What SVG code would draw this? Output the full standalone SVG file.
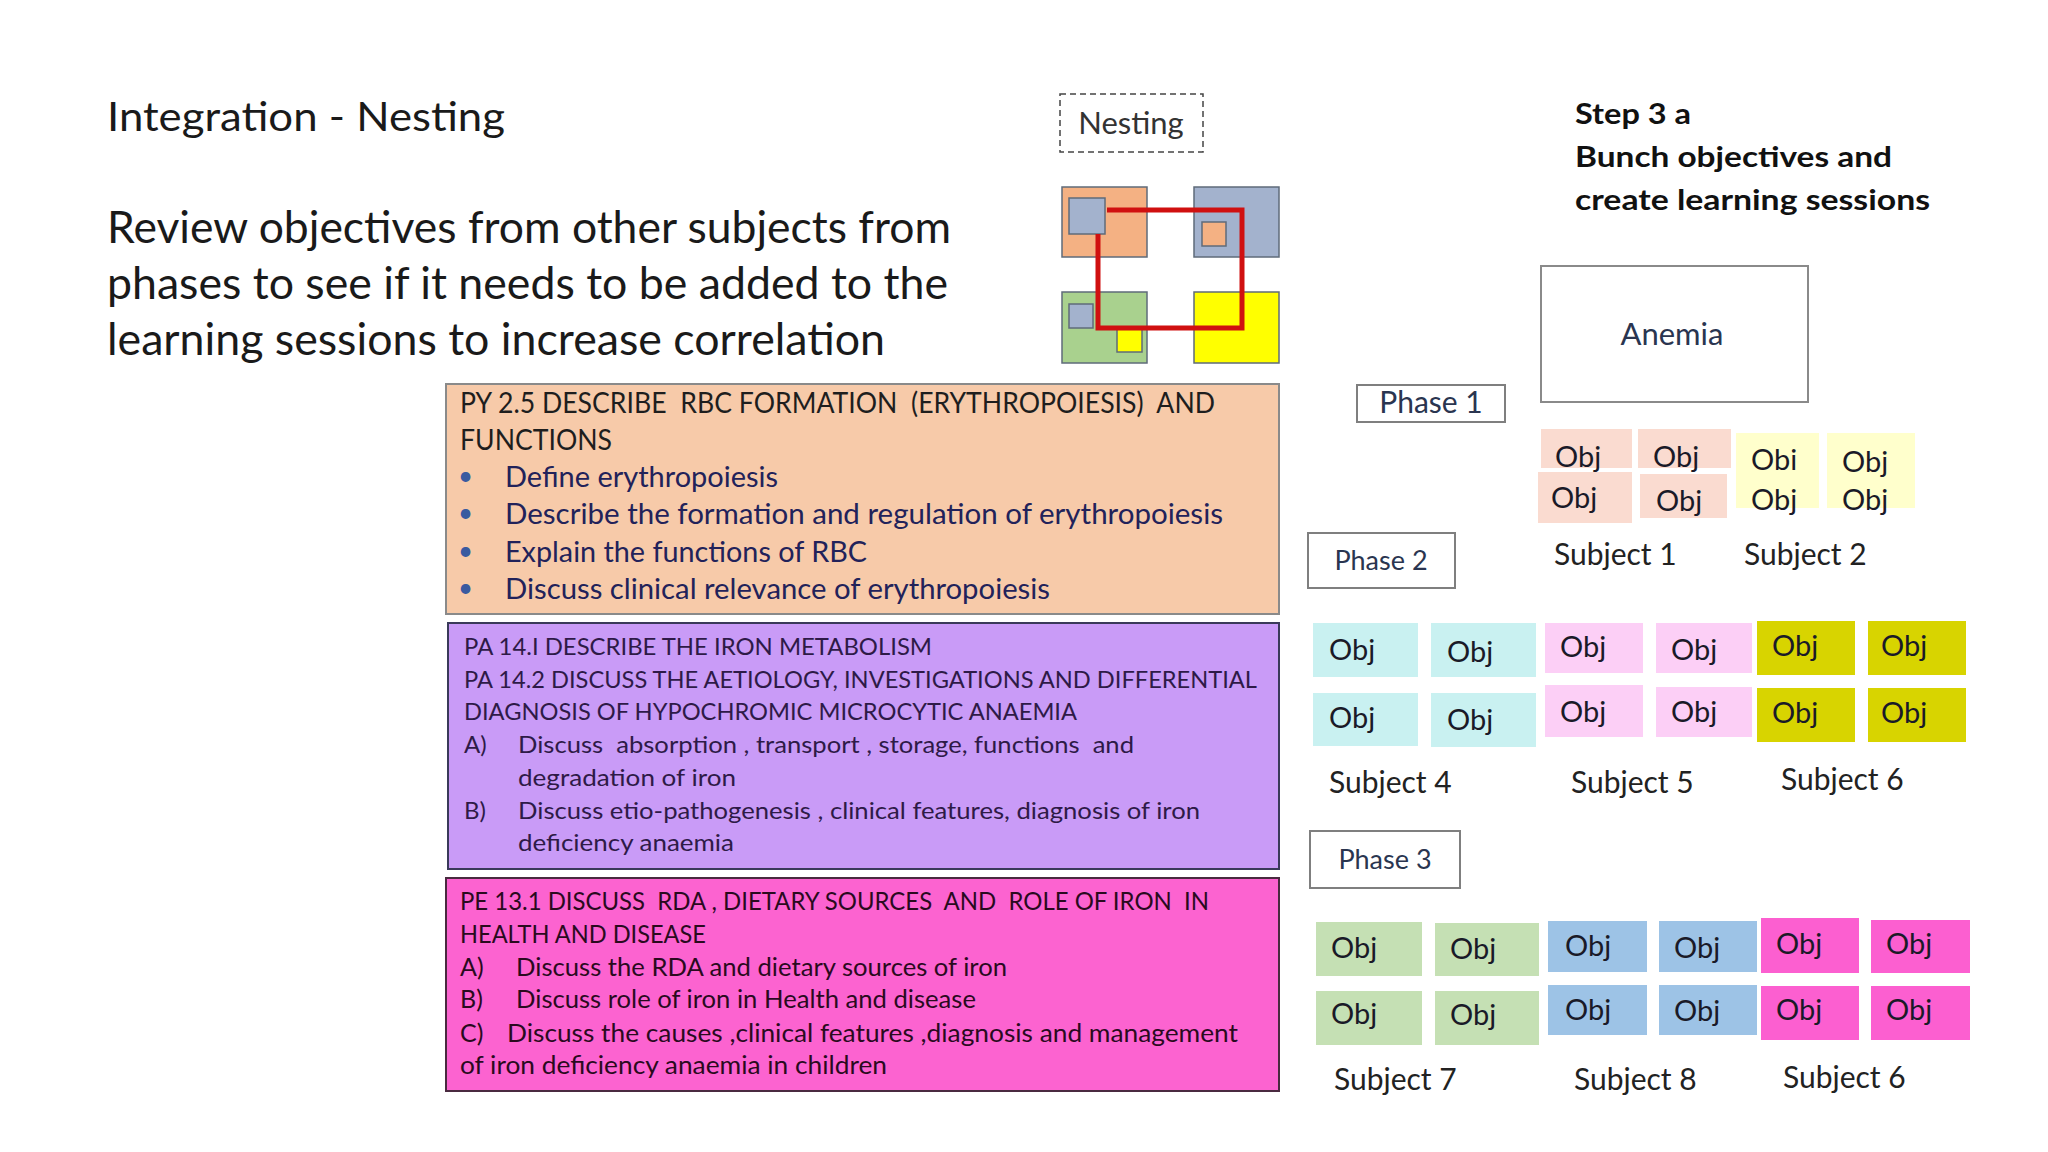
<svg xmlns="http://www.w3.org/2000/svg" width="2048" height="1152" viewBox="0 0 2048 1152">
<style>
text{font-family:Lato,"Liberation Sans",sans-serif}
.t{fill:#1a1a1a}
.bold{font-weight:bold;fill:#111;font-size:29px}
.py{font-size:28px;fill:#1e1e1e}
.pyb{font-size:28px;fill:#22225a}
.dot{fill:#3a5aa0;font-size:26px}
.pa{font-size:24px;fill:#2e1a47}
.pe{font-size:25px;fill:#2a0a1e}
.obj{font-size:29px;fill:#1a1a28}
.lbl{font-size:30px;fill:#222}
.ph{fill:#fff;stroke:#7f7f7f;stroke-width:2}
.pht{fill:#2a3550;text-anchor:middle}
.s1{fill:#fadbd0}.s2{fill:#ffffcc}.s4{fill:#c9f1f1}.s5{fill:#fccff6}.s6{fill:#d8d400}.s7{fill:#c5e0b4}.s8{fill:#9dc3e6}.s6b{fill:#fc5fd0}
.sq{stroke:#5f6b7a;stroke-width:1.5}
</style>

<g id="title">
<text x="107" y="131" font-size="40" class="t" textLength="398" lengthAdjust="spacingAndGlyphs">Integration - Nesting</text>
</g>
<g id="intro">
<text x="107" y="243" font-size="44" class="t" textLength="844" lengthAdjust="spacingAndGlyphs">Review objectives from other subjects from</text>
<text x="107" y="299" font-size="44" class="t" textLength="841" lengthAdjust="spacingAndGlyphs">phases to see if it needs to be added to the</text>
<text x="107" y="355" font-size="44" class="t" textLength="778" lengthAdjust="spacingAndGlyphs">learning sessions to increase correlation</text>
</g>

<g id="step3a">
<text x="1575" y="124" class="bold" textLength="116" lengthAdjust="spacingAndGlyphs">Step 3 a</text>
<text x="1575" y="167" class="bold" textLength="317" lengthAdjust="spacingAndGlyphs">Bunch objectives and</text>
<text x="1575" y="210" class="bold" textLength="355" lengthAdjust="spacingAndGlyphs">create learning sessions</text>
</g>

<g id="nesting-label">
<rect x="1060" y="94" width="143" height="58" fill="#fff" stroke="#444" stroke-width="1.5" stroke-dasharray="6,4"/>
<text x="1131" y="134" font-size="31" fill="#333" text-anchor="middle">Nesting</text>
</g>

<g id="nesting-icon">
<rect x="1062" y="187" width="85" height="70" fill="#f4b183" class="sq"/>
<rect x="1194" y="187" width="85" height="70" fill="#a3b2cd" class="sq"/>
<rect x="1062" y="292" width="85" height="71" fill="#a9d18e" class="sq"/>
<rect x="1194" y="292" width="85" height="71" fill="#ffff00" class="sq"/>
<rect x="1069" y="198" width="36" height="36" fill="#a3b2cd" class="sq"/>
<rect x="1202" y="222" width="24" height="24" fill="#f4b183" class="sq"/>
<rect x="1069" y="304" width="24" height="24" fill="#a3b2cd" class="sq"/>
<rect x="1117" y="328" width="25" height="24" fill="#ffff00" class="sq"/>
<polyline points="1107,210 1242,210 1242,328 1098,328 1098,234" fill="none" stroke="#d01010" stroke-width="5"/>
</g>

<g id="py-box">
<rect x="446" y="384" width="833" height="230" fill="#f7caa9" stroke="#8a8a8a" stroke-width="2"/>
<text x="460" y="413" class="py" xml:space="preserve" textLength="755" lengthAdjust="spacingAndGlyphs">PY 2.5 DESCRIBE  RBC FORMATION  (ERYTHROPOIESIS)  AND</text>
<text x="460" y="450" class="py" textLength="152" lengthAdjust="spacingAndGlyphs">FUNCTIONS</text>
<text x="458" y="485" class="dot">•</text>
<text x="505" y="487" class="pyb" textLength="273" lengthAdjust="spacingAndGlyphs">Define erythropoiesis</text>
<text x="458" y="522" class="dot">•</text>
<text x="505" y="524" class="pyb" textLength="718" lengthAdjust="spacingAndGlyphs">Describe the formation and regulation of erythropoiesis</text>
<text x="458" y="560" class="dot">•</text>
<text x="505" y="562" class="pyb" textLength="362" lengthAdjust="spacingAndGlyphs">Explain the functions of RBC</text>
<text x="458" y="597" class="dot">•</text>
<text x="505" y="599" class="pyb" textLength="545" lengthAdjust="spacingAndGlyphs">Discuss clinical relevance of erythropoiesis</text>
</g>

<g id="pa-box">
<rect x="448" y="623" width="831" height="246" fill="#c99bf7" stroke="#3a3a5a" stroke-width="2"/>
<text x="464" y="655" class="pa" textLength="468" lengthAdjust="spacingAndGlyphs">PA 14.I DESCRIBE THE IRON METABOLISM</text>
<text x="464" y="688" class="pa" textLength="793" lengthAdjust="spacingAndGlyphs">PA 14.2 DISCUSS THE AETIOLOGY, INVESTIGATIONS AND DIFFERENTIAL</text>
<text x="464" y="720" class="pa" textLength="613" lengthAdjust="spacingAndGlyphs">DIAGNOSIS OF HYPOCHROMIC MICROCYTIC ANAEMIA</text>
<text x="464" y="753" class="pa">A)</text>
<text x="518" y="753" class="pa" xml:space="preserve" textLength="616" lengthAdjust="spacingAndGlyphs">Discuss  absorption , transport , storage, functions  and</text>
<text x="518" y="786" class="pa" textLength="218" lengthAdjust="spacingAndGlyphs">degradation of iron</text>
<text x="464" y="819" class="pa">B)</text>
<text x="518" y="819" class="pa" textLength="682" lengthAdjust="spacingAndGlyphs">Discuss etio-pathogenesis , clinical features, diagnosis of iron</text>
<text x="518" y="851" class="pa" textLength="216" lengthAdjust="spacingAndGlyphs">deficiency anaemia</text>
</g>

<g id="pe-box">
<rect x="446" y="878" width="833" height="213" fill="#fc63d0" stroke="#4a2a40" stroke-width="2"/>
<text x="460" y="910" class="pe" xml:space="preserve" textLength="749" lengthAdjust="spacingAndGlyphs">PE 13.1 DISCUSS  RDA , DIETARY SOURCES  AND  ROLE OF IRON  IN</text>
<text x="460" y="943" class="pe" textLength="246" lengthAdjust="spacingAndGlyphs">HEALTH AND DISEASE</text>
<text x="460" y="976" class="pe">A)</text>
<text x="516" y="976" class="pe" textLength="491" lengthAdjust="spacingAndGlyphs">Discuss the RDA and dietary sources of iron</text>
<text x="460" y="1008" class="pe">B)</text>
<text x="516" y="1008" class="pe" textLength="460" lengthAdjust="spacingAndGlyphs">Discuss role of iron in Health and disease</text>
<text x="460" y="1042" class="pe">C)</text>
<text x="507" y="1042" class="pe" textLength="731" lengthAdjust="spacingAndGlyphs">Discuss the causes ,clinical features ,diagnosis and management</text>
<text x="460" y="1074" class="pe" textLength="427" lengthAdjust="spacingAndGlyphs">of iron deficiency anaemia in children</text>
</g>

<g id="anemia">
<rect x="1541" y="266" width="267" height="136" fill="#fff" stroke="#8a8a8a" stroke-width="2"/>
<text x="1672" y="345" font-size="31" class="pht">Anemia</text>
</g>

<g id="phase1">
<rect x="1357" y="385" width="148" height="37" class="ph"/>
<text x="1431" y="413" font-size="30" class="pht">Phase 1</text>
</g>
<g id="phase2">
<rect x="1308" y="533" width="147" height="55" class="ph"/>
<text x="1381" y="570" font-size="27" class="pht">Phase 2</text>
</g>
<g id="phase3">
<rect x="1310" y="831" width="150" height="57" class="ph"/>
<text x="1385" y="869" font-size="27" class="pht">Phase 3</text>
</g>

<g id="subject1">
<rect x="1541" y="429" width="91" height="39" class="s1"/>
<rect x="1638" y="429" width="93" height="39" class="s1"/>
<rect x="1538" y="472" width="94" height="51" class="s1"/>
<rect x="1640" y="474" width="87" height="44" class="s1"/>
<text x="1555" y="467" class="obj">Obj</text>
<text x="1653" y="467" class="obj">Obj</text>
<text x="1551" y="508" class="obj">Obj</text>
<text x="1656" y="511" class="obj">Obj</text>
<text x="1554" y="565" class="lbl">Subject 1</text>
</g>
<g id="subject2">
<rect x="1736" y="433" width="83" height="75" class="s2"/>
<rect x="1827" y="433" width="88" height="75" class="s2"/>
<text x="1751" y="470" class="obj">Obi</text>
<text x="1842" y="472" class="obj">Obj</text>
<text x="1751" y="510" class="obj">Obj</text>
<text x="1842" y="510" class="obj">Obj</text>
<text x="1744" y="565" class="lbl">Subject 2</text>
</g>

<g id="subject4">
<rect x="1313" y="623" width="105" height="54" class="s4"/>
<rect x="1431" y="623" width="105" height="54" class="s4"/>
<rect x="1313" y="693" width="105" height="53" class="s4"/>
<rect x="1431" y="693" width="105" height="54" class="s4"/>
<text x="1329" y="660" class="obj">Obj</text>
<text x="1447" y="662" class="obj">Obj</text>
<text x="1329" y="728" class="obj">Obj</text>
<text x="1447" y="730" class="obj">Obj</text>
<text x="1329" y="793" class="lbl">Subject 4</text>
</g>
<g id="subject5">
<rect x="1545" y="623" width="98" height="50" class="s5"/>
<rect x="1656" y="623" width="96" height="50" class="s5"/>
<rect x="1545" y="685" width="98" height="52" class="s5"/>
<rect x="1656" y="687" width="96" height="50" class="s5"/>
<text x="1560" y="657" class="obj">Obj</text>
<text x="1671" y="660" class="obj">Obj</text>
<text x="1560" y="722" class="obj">Obj</text>
<text x="1671" y="722" class="obj">Obj</text>
<text x="1571" y="793" class="lbl">Subject 5</text>
</g>
<g id="subject6-phase2">
<rect x="1757" y="621" width="98" height="54" class="s6"/>
<rect x="1868" y="621" width="98" height="54" class="s6"/>
<rect x="1757" y="688" width="98" height="54" class="s6"/>
<rect x="1868" y="688" width="98" height="54" class="s6"/>
<text x="1772" y="656" class="obj">Obj</text>
<text x="1881" y="656" class="obj">Obj</text>
<text x="1772" y="723" class="obj">Obj</text>
<text x="1881" y="723" class="obj">Obj</text>
<text x="1781" y="790" class="lbl">Subject 6</text>
</g>

<g id="subject7">
<rect x="1316" y="922" width="106" height="54" class="s7"/>
<rect x="1435" y="923" width="104" height="53" class="s7"/>
<rect x="1316" y="991" width="106" height="54" class="s7"/>
<rect x="1435" y="991" width="104" height="54" class="s7"/>
<text x="1331" y="958" class="obj">Obj</text>
<text x="1450" y="959" class="obj">Obj</text>
<text x="1331" y="1024" class="obj">Obj</text>
<text x="1450" y="1025" class="obj">Obj</text>
<text x="1334" y="1090" class="lbl">Subject 7</text>
</g>
<g id="subject8">
<rect x="1548" y="921" width="99" height="51" class="s8"/>
<rect x="1659" y="921" width="98" height="51" class="s8"/>
<rect x="1548" y="985" width="99" height="50" class="s8"/>
<rect x="1659" y="985" width="98" height="50" class="s8"/>
<text x="1565" y="956" class="obj">Obj</text>
<text x="1674" y="958" class="obj">Obj</text>
<text x="1565" y="1020" class="obj">Obj</text>
<text x="1674" y="1021" class="obj">Obj</text>
<text x="1574" y="1090" class="lbl">Subject 8</text>
</g>
<g id="subject6-phase3">
<rect x="1761" y="918" width="98" height="55" class="s6b"/>
<rect x="1871" y="920" width="99" height="53" class="s6b"/>
<rect x="1761" y="986" width="98" height="54" class="s6b"/>
<rect x="1871" y="986" width="99" height="54" class="s6b"/>
<text x="1776" y="954" class="obj">Obj</text>
<text x="1886" y="954" class="obj">Obj</text>
<text x="1776" y="1020" class="obj">Obj</text>
<text x="1886" y="1020" class="obj">Obj</text>
<text x="1783" y="1088" class="lbl">Subject 6</text>
</g>

<g id="connectors"></g>
</svg>
